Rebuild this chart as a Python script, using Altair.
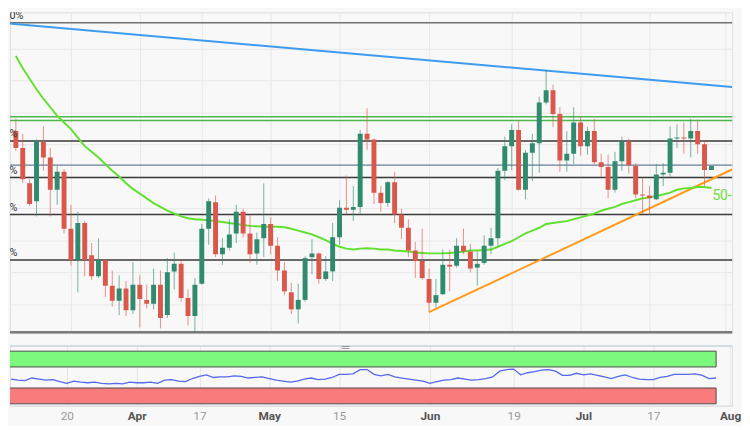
import altair as alt
import pandas as pd

# ---------------- data ----------------
start_date = "2023-03-08"
end_date = "2023-08-01"
holiday = "2023-04-07"
calendar = [d.strftime("%Y-%m-%d") for d in pd.bdate_range(start_date, end_date)
            if d.strftime("%Y-%m-%d") != holiday]

opens = [215, 197, 160, 141, 204, 187, 153, 172, 112, 79, 118, 84, 62, 79, 52, 36, 49, 26, 53, 37,
         33, 53, 21, 67, 75, 39, 20, 54, 112, 140, 85, 92, 107, 130, 107, 86, 102, 117, 94, 68,
         45, 27, 37, 82, 86, 59, 67, 103, 134, 132, 135, 212, 206, 150, 139, 161, 127, 113, 89, 78,
         59, 34, 43, 74, 73, 94, 88, 71, 76, 94, 102, 173, 199, 216, 153, 192, 202, 245, 258, 233,
         184, 191, 224, 199, 215, 182, 177, 153, 183, 204, 178, 148, 147, 143, 169, 171, 207, 208, 207, 215,
         201, 174]
highs = [228, 212, 164, 206, 220, 197, 178, 175, 137, 130, 120, 97, 102, 80, 68, 63, 57, 77, 63, 53,
         70, 68, 81, 87, 80, 48, 60, 117, 144, 147, 102, 122, 137, 133, 127, 108, 160, 124, 103, 77,
         55, 54, 83, 101, 87, 83, 118, 142, 168, 157, 216, 239, 207, 157, 162, 172, 133, 122, 98, 112,
         70, 59, 90, 90, 102, 112, 96, 88, 105, 113, 176, 209, 222, 226, 195, 212, 251, 279, 264, 240,
         215, 240, 230, 219, 228, 191, 190, 193, 209, 207, 181, 165, 157, 180, 181, 220, 222, 224, 228, 227,
         205, 178]
lows = [194, 160, 136, 125, 173, 125, 137, 107, 73, 45, 62, 58, 60, 40, 30, 21, 20, 22, 8, 28,
        27, 7, 18, 48, 35, 10, 2, 53, 95, 82, 74, 89, 97, 103, 76, 74, 82, 85, 57, 42,
        22, 12, 35, 64, 54, 57, 57, 95, 127, 120, 127, 195, 138, 130, 135, 118, 101, 82, 60, 58,
        24, 29, 42, 46, 71, 85, 66, 52, 74, 85, 93, 163, 174, 152, 143, 162, 171, 243, 219, 172,
        172, 180, 189, 190, 180, 167, 144, 150, 173, 170, 144, 128, 127, 142, 157, 167, 197, 191, 187, 191,
        157, 174]
closes = [197, 164, 138, 205, 187, 153, 172, 112, 79, 118, 79, 62, 79, 52, 36, 49, 26, 53, 38, 33,
          53, 18, 66, 75, 39, 20, 53, 112, 141, 85, 92, 106, 130, 107, 85, 101, 117, 94, 68, 46,
          27, 37, 81, 86, 59, 67, 103, 134, 132, 135, 212, 206, 150, 139, 161, 127, 113, 89, 78, 60,
          34, 42, 74, 72, 94, 88, 70, 75, 94, 102, 173, 199, 216, 153, 192, 202, 245, 258, 233, 184,
          191, 224, 199, 215, 182, 177, 153, 183, 204, 179, 148, 147, 144, 169, 171, 207, 208, 207, 215, 201,
          174, 178]
sma50 = [294, 281, 270, 259, 249, 240, 231, 224, 217, 208, 199, 193, 187, 180, 173, 167, 160, 154, 149, 144,
         139, 135, 131, 128, 125, 123, 122, 121.5, 121, 120, 119, 118, 117, 116, 115, 114.5, 114, 114, 114, 113.5,
         112, 110, 108, 106, 103, 100, 96, 93, 91, 90, 91, 91.5, 91, 90, 90, 89, 88.5, 88, 87, 86.5,
         86, 86, 86, 86.5, 87, 88, 89, 89, 89.5, 90, 93, 96, 99, 103, 107, 110, 113, 117, 118, 119,
         120, 122, 124, 126, 128, 131, 133, 135, 138, 140, 142, 144, 145, 146.5, 148, 150, 153, 154.5, 155, 156,
         156, 155]
rsi14 = [47, 45, 44, 49, 47, 45, 46, 42, 39, 43, 41, 40, 41, 39, 38, 39, 38, 41, 40, 40,
         41, 39, 45, 46, 43, 42, 48, 52, 55, 50, 51, 51, 53, 52, 49, 50, 51, 48, 45, 43,
         41, 43, 47, 49, 46, 47, 50, 56, 56, 57, 65, 65, 56, 53, 56, 51, 49, 47, 45, 43,
         39, 42, 45, 46, 49, 47, 45, 46, 48, 51, 62, 65, 66, 55, 59, 61, 64, 65, 62, 54,
         54, 58, 55, 57, 54, 51, 48, 52, 55, 50, 47, 46, 46, 50, 52, 56, 56, 56, 57, 54,
         48, 49]

fib_levels = [329, 204.5, 166, 127, 79]
fib_labels = ["100.0%", "61.8%", "50.0%", "38.2%", "23.6%"]
resistance_levels = [230, 226]
pivot_levels = [179]
base_levels = [3]
grid_levels = [32.4, 66.1, 99.8, 133.5, 167.2, 200.9, 234.6, 268.3, 302.0]

downtrend_k = [-1, 104]
downtrend_v = [328.3, 261.3]
uptrend_k = [60, 104]
uptrend_v = [24, 174.4]

rsi_zone_names = ["overbought", "oversold"]
rsi_zone_lo = [70, 0]
rsi_zone_hi = [100, 30]
rsi_zone_fill = ["#7cf87c", "#fa7b7b"]

tick_dates = ["2023-03-20", "2023-04-03", "2023-04-17", "2023-05-01", "2023-05-15",
              "2023-06-01", "2023-06-19", "2023-07-03", "2023-07-17", "2023-08-01"]
tick_labels = ["20", "Apr", "17", "May", "15", "Jun", "19", "Jul", "17", "Aug"]

# ---------------- tables ----------------
n = len(opens)
df = pd.DataFrame({
    "k": list(range(n)), "date": calendar[:n],
    "open": opens, "high": highs, "low": lows, "close": closes,
    "sma": sma50, "rsi": rsi14,
})
df["dir"] = ["up" if c >= o else "down" for o, c in zip(opens, closes)]

tick_k = [calendar.index(d) for d in tick_dates]
label_expr = "''"
for kk, tt in reversed(list(zip(tick_k, tick_labels))):
    label_expr = f"datum.value == {kk} ? '{tt}' : ({label_expr})"
month_k = [kk for kk, tt in zip(tick_k, tick_labels) if tt.isalpha()]
month_test = "indexof([" + ",".join(str(m) for m in month_k) + "], datum.value) >= 0"

fib_df = pd.DataFrame({"level": fib_levels, "label": fib_labels})
res_df = pd.DataFrame({"level": resistance_levels})
piv_df = pd.DataFrame({"level": pivot_levels})
base_df = pd.DataFrame({"level": base_levels})
down_df = pd.DataFrame({"k": downtrend_k, "v": downtrend_v})
up_df = pd.DataFrame({"k": uptrend_k, "v": uptrend_v})
zones_df = pd.DataFrame({"zone": rsi_zone_names, "lo": rsi_zone_lo, "hi": rsi_zone_hi,
                         "x0": [-1, -1], "x1": [n - 1, n - 1]})
last_df = df.tail(1).assign(label="50-day SMA")

# ---------------- scales / axes ----------------
X_DOMAIN = [-0.14, 103.3]
xs = alt.Scale(domain=X_DOMAIN, nice=False, zero=False)
ys = alt.Scale(domain=[2, 340], nice=False, zero=False)
rs = alt.Scale(domain=[-4, 110], nice=False, zero=False)

x_axis_main = alt.Axis(values=tick_k, labels=False, ticks=False, domain=False, grid=True,
                       gridColor="#e8e8e8", title=None)
y_axis_main = alt.Axis(values=grid_levels, labels=False, ticks=False, domain=False, grid=True,
                       gridColor="#e8e8e8", title=None)


def X(field):
    return alt.X(field, scale=xs, axis=x_axis_main)


def Y(field):
    return alt.Y(field, scale=ys, axis=y_axis_main)


W, H_MAIN, H_RSI = 734, 326, 61

fib = alt.Chart(fib_df).mark_rule(strokeWidth=1.5).encode(
    y=Y("level:Q"),
    color=alt.condition(alt.datum.level > 300, alt.value("#707070"), alt.value("#3a3a3a")),
)
fib_text = alt.Chart(fib_df).mark_text(
    align="left", baseline="bottom", dx=-27, dy=-2, fontSize=11, color="#333333", clip=True
).encode(x=alt.datum(X_DOMAIN[0]), y=Y("level:Q"), text="label:N")
res = alt.Chart(res_df).mark_rule(color="#4cb84c", strokeWidth=1.5).encode(y=Y("level:Q"))
piv = alt.Chart(piv_df).mark_rule(color="#6a7e98", strokeWidth=1.3).encode(y=Y("level:Q"))
base = alt.Chart(base_df).mark_rule(color="#7a7a7a", strokeWidth=2.5).encode(y=Y("level:Q"))
down = alt.Chart(down_df).mark_line(color="#3d9cf0", strokeWidth=2, clip=True).encode(
    x=X("k:Q"), y=Y("v:Q"))
up = alt.Chart(up_df).mark_line(color="#ff9a1f", strokeWidth=2, clip=True).encode(
    x=X("k:Q"), y=Y("v:Q"))
sma = alt.Chart(df).mark_line(color="#62e030", strokeWidth=2, clip=True).encode(
    x=X("k:Q"), y=Y("sma:Q"))
sma_text = alt.Chart(last_df).mark_text(
    align="left", baseline="middle", dx=1, dy=8, fontSize=14, color="#6ee03c", clip=True
).encode(x=X("k:Q"), y=Y("sma:Q"), text="label:N")

candle_color = alt.Color("dir:N", scale=alt.Scale(domain=["up", "down"], range=["#2f8a6e", "#d9584b"]),
                         legend=None)
wick = alt.Chart(df).mark_rule(strokeWidth=1, opacity=0.65, clip=True).encode(
    x=X("k:Q"), y=Y("low:Q"), y2="high:Q", color=candle_color)
body = alt.Chart(df).mark_bar(width=5, clip=True).encode(
    x=X("k:Q"), y=Y("open:Q"), y2="close:Q", color=candle_color)

main = alt.layer(base, fib, res, piv, down, up, sma, wick, body, fib_text, sma_text).properties(
    width=W, height=H_MAIN)

# ---------------- RSI panel ----------------
x_axis_rsi = alt.Axis(
    values=tick_k, labelExpr=label_expr, grid=True, gridColor="#e6e6e6", ticks=False, domain=False,
    labelFlush=False, labelOverlap=False, labelPadding=5, labelFontSize=12, title=None,
    labelColor={"condition": {"test": month_test, "value": "#555555"}, "value": "#9a9a9a"},
    labelFontWeight={"condition": {"test": month_test, "value": "bold"}, "value": "normal"},
)


def XR(field):
    return alt.X(field, scale=xs, axis=x_axis_rsi)


def YR(field):
    return alt.Y(field, scale=rs, axis=None)


zones = alt.Chart(zones_df).mark_rect(stroke="#4a4a4a", strokeWidth=1, clip=True).encode(
    x=XR("x0:Q"), x2="x1:Q", y=YR("lo:Q"), y2="hi:Q",
    fill=alt.Fill("zone:N", scale=alt.Scale(domain=rsi_zone_names, range=rsi_zone_fill), legend=None),
)
rsi_line = alt.Chart(df).mark_line(color="#5468f0", strokeWidth=1.3, clip=True).encode(
    x=XR("k:Q"), y=YR("rsi:Q"))
sep_top = alt.Chart(df.head(1)).mark_rule(color="#d3dbe4", strokeWidth=2).encode(y=alt.datum(110))
sep_bot = alt.Chart(df.head(1)).mark_rule(color="#dfe5ec", strokeWidth=1).encode(y=alt.datum(-3.5))
handle = alt.Chart(df.head(1)).mark_text(text="═", fontSize=11, color="#8a8a8a").encode(
    x=alt.datum(47.9), y=alt.datum(105.5))

rsi = alt.layer(zones, rsi_line, sep_top, sep_bot, handle).properties(width=W, height=H_RSI)

chart = alt.vconcat(main, rsi, spacing=7).resolve_scale(
    color="independent", fill="independent"
).properties(
    padding=0, background="#f8f8f8"
).configure_view(stroke="transparent").configure(font="Roboto")

chart.save("out.html", embed_options={"renderer": "svg", "actions": False})
